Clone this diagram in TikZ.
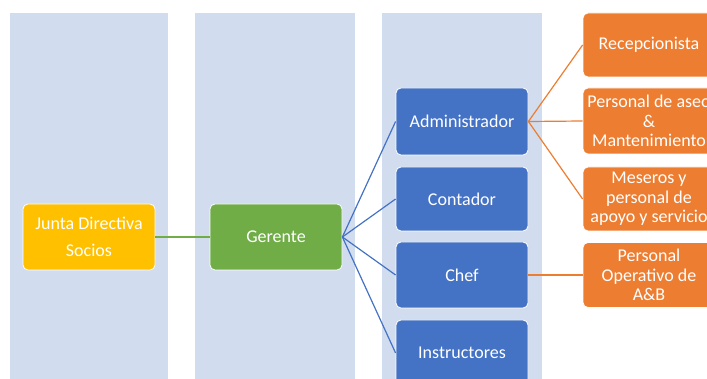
\documentclass[tikz,border=0pt]{standalone}
\usepackage{fontspec}
\setmainfont{Carlito}
\definecolor{lane}{HTML}{D1DCEE}
\definecolor{gold}{HTML}{FFC000}
\definecolor{leaf}{HTML}{70AD47}
\definecolor{royal}{HTML}{4472C4}
\definecolor{tang}{HTML}{ED7D31}
\tikzset{
  card/.style={draw=white, line width=0.8pt, rounded corners=5pt, text=white,
    minimum width=132pt, align=center, inner sep=0pt,
    font=\fontsize{18}{19.5}\selectfont},
  lanebox/.style={fill=lane, draw=none},
  link/.style={line width=1.2pt},
}
\begin{document}
\begin{tikzpicture}[x=1pt,y=-1pt]
  \useasboundingbox (0,0) rectangle (707,379);
  \clip (0,0) rectangle (707,379);
  % swim lanes
  \fill[lanebox] (10,13) rectangle (168,385);
  \fill[lanebox] (195,13) rectangle (355,385);
  \fill[lanebox] (382,13) rectangle (542,385);
  % boxes
  \node[card, fill=gold, minimum height=66pt, font=\fontsize{18}{27}\selectfont] (junta) at (89,237) {Junta Directiva\\Socios};
  \node[card, fill=leaf, minimum height=66pt] (ger) at (276,237) {Gerente};
  \node[card, fill=royal, minimum height=67pt] (adm) at (462,121.5) {Administrador};
  \node[card, fill=royal, minimum height=64pt] (cont) at (462,199) {Contador};
  \node[card, fill=royal, minimum height=66pt] (chef) at (462,275) {Chef};
  \node[card, fill=royal, minimum height=66pt] (inst) at (462,353) {Instructores};
  \node[card, fill=tang, minimum height=64pt] (rec) at (649,45) {Recepcionista};
  \node[card, fill=tang, minimum height=66pt] (aseo) at (649,121) {Personal de aseo\\\&\\Mantenimiento};
  \node[card, fill=tang, minimum height=64pt] (mes) at (649,199) {Meseros y\\personal de\\apoyo y servicio};
  \node[card, fill=tang, minimum height=65pt] (oper) at (649,275) {Personal\\Operativo de\\A\&B};
  % connectors
  \draw[link, leaf] (junta.east) -- (ger.west);
  \foreach \t in {adm,cont,chef,inst}
    \draw[link, royal] (ger.east) -- (\t.west);
  \foreach \t in {rec,aseo,mes}
    \draw[link, tang] (adm.east) -- (\t.west);
  \draw[link, tang] (chef.east) -- (oper.west);
\end{tikzpicture}
\end{document}
